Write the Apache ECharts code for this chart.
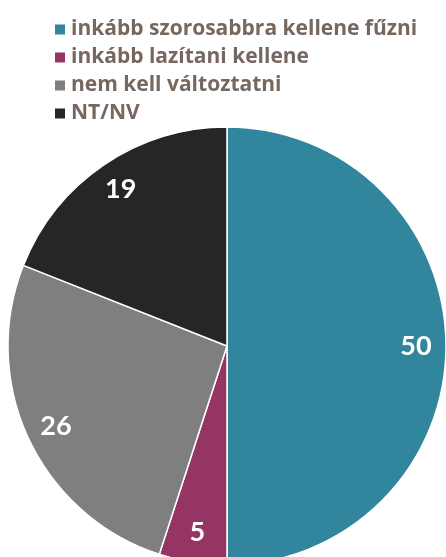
<!DOCTYPE html>
<html>
<head>
<meta charset="utf-8">
<script src="https://cdn.jsdelivr.net/npm/echarts@6/dist/echarts.min.js"></script>
<style>
  html, body { margin: 0; padding: 0; background: #fff; }
  #chartsDom { width: 446px; height: 557px; }
</style>
</head>
<body>
<div id="chartsDom"></div>
<script>
const categories = ['inkább szorosabbra kellene fűzni', 'inkább lazítani kellene', 'nem kell változtatni', 'NT/NV'];
const values = [50, 5, 26, 19];
const colors = ['#31859C', '#953564', '#7F7F7F', '#262626'];

const chartsDom = echarts.init(document.getElementById('chartsDom'));
const pieData = categories.map((name, i) => ({ name: name, value: values[i], itemStyle: { color: colors[i] } }));

let option = {
  animation: false,
  legend: {
    orient: 'vertical',
    left: 48,
    top: 14,
    itemWidth: 12,
    itemHeight: 12,
    itemGap: 7,
    itemTextGap: 9,
    icon: 'rect',
    textStyle: {
      fontFamily: 'Open Sans',
      fontWeight: 'bold',
      fontSize: 21,
      color: '#76675F'
    },
    data: categories
  },
  series: [
    {
      type: 'pie',
      center: [227, 346],
      radius: [0, 219],
      startAngle: 90,
      clockwise: true,
      silent: true,
      itemStyle: { borderColor: '#fff', borderWidth: 1.5 },
      label: { show: false },
      labelLine: { show: false },
      data: pieData
    },
    {
      // transparent ring just to place value labels near the rim
      type: 'pie',
      center: [227, 346],
      radius: [153, 219],
      startAngle: 90,
      clockwise: true,
      silent: true,
      legendHoverLink: false,
      itemStyle: { color: 'rgba(0,0,0,0)', borderWidth: 0 },
      label: {
        show: true,
        position: 'inside',
        formatter: '{c}',
        color: '#fff',
        fontFamily: 'Lato',
        fontWeight: 'bold',
        fontSize: 27
      },
      labelLine: { show: false },
      data: categories.map((name, i) => ({ name: name, value: values[i] }))
    }
  ]
};
option && chartsDom.setOption(option);
</script>
</body>
</html>
